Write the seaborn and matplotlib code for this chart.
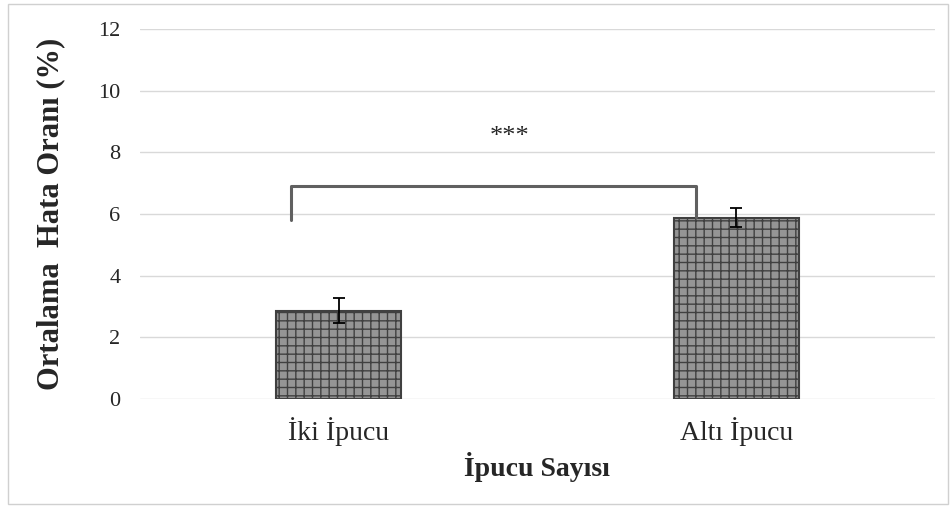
import matplotlib
matplotlib.use("Agg")
import matplotlib.pyplot as plt
import seaborn as sns
import pandas as pd
from matplotlib.patches import Rectangle

categories = ["İki İpucu", "Altı İpucu"]
means = [2.86, 5.88]
errors = [0.40, 0.30]
y_ticks = [0, 2, 4, 6, 8, 10, 12]

sns.set_style("white")
plt.rcParams["font.family"] = ["Liberation Serif", "DejaVu Serif"]
plt.rcParams["hatch.linewidth"] = 1.0

df = pd.DataFrame({"cat": categories, "val": means})

fig = plt.figure(figsize=(9.52, 5.08), dpi=100)
ax = fig.add_axes([0.147, 0.2146, 0.835, 0.7284])

sns.barplot(data=df, x="cat", y="val", ax=ax, color="#959595", width=0.315,
            saturation=1, errorbar=None, zorder=3)
for p in ax.patches:
    p.set_hatch("++")
    p.set_edgecolor("#404040")
    p.set_linewidth(1.5)

ax.errorbar(range(len(categories)), means, yerr=errors, fmt="none",
            ecolor="black", elinewidth=1.3, capsize=4, capthick=1.3, zorder=4)

ax.set_ylim(0, 12)
ax.set_xlim(-0.5, 1.5)
ax.set_yticks(y_ticks)
ax.set_yticklabels([str(t) for t in y_ticks], fontsize=16)
ax.tick_params(axis="x", labelsize=20, length=0, pad=13)
ax.tick_params(axis="y", length=0, pad=14)
ax.yaxis.grid(True, color="#d9d9d9", linewidth=1)
ax.set_axisbelow(True)
for s in ax.spines.values():
    s.set_visible(False)

ax.set_ylabel("Ortalama  Hata Oranı (%)", fontsize=22, fontweight="bold", labelpad=24)
ax.set_xlabel("İpucu Sayısı", fontsize=20, fontweight="bold", labelpad=4)

# significance bracket
ax.plot([-0.12, -0.12, 0.9, 0.9], [5.8, 6.92, 6.92, 5.9], color="#606060",
        linewidth=2.2, solid_joinstyle="round", zorder=5)
ax.text(0.43, 8.5, "***", ha="center", va="center", fontsize=19)

# figure border
fig.patches.append(Rectangle((0.008, 0.008), 0.988, 0.985, transform=fig.transFigure,
                             fill=False, edgecolor="#d0d0d0", linewidth=1))

fig.savefig("out.png", dpi=100)
